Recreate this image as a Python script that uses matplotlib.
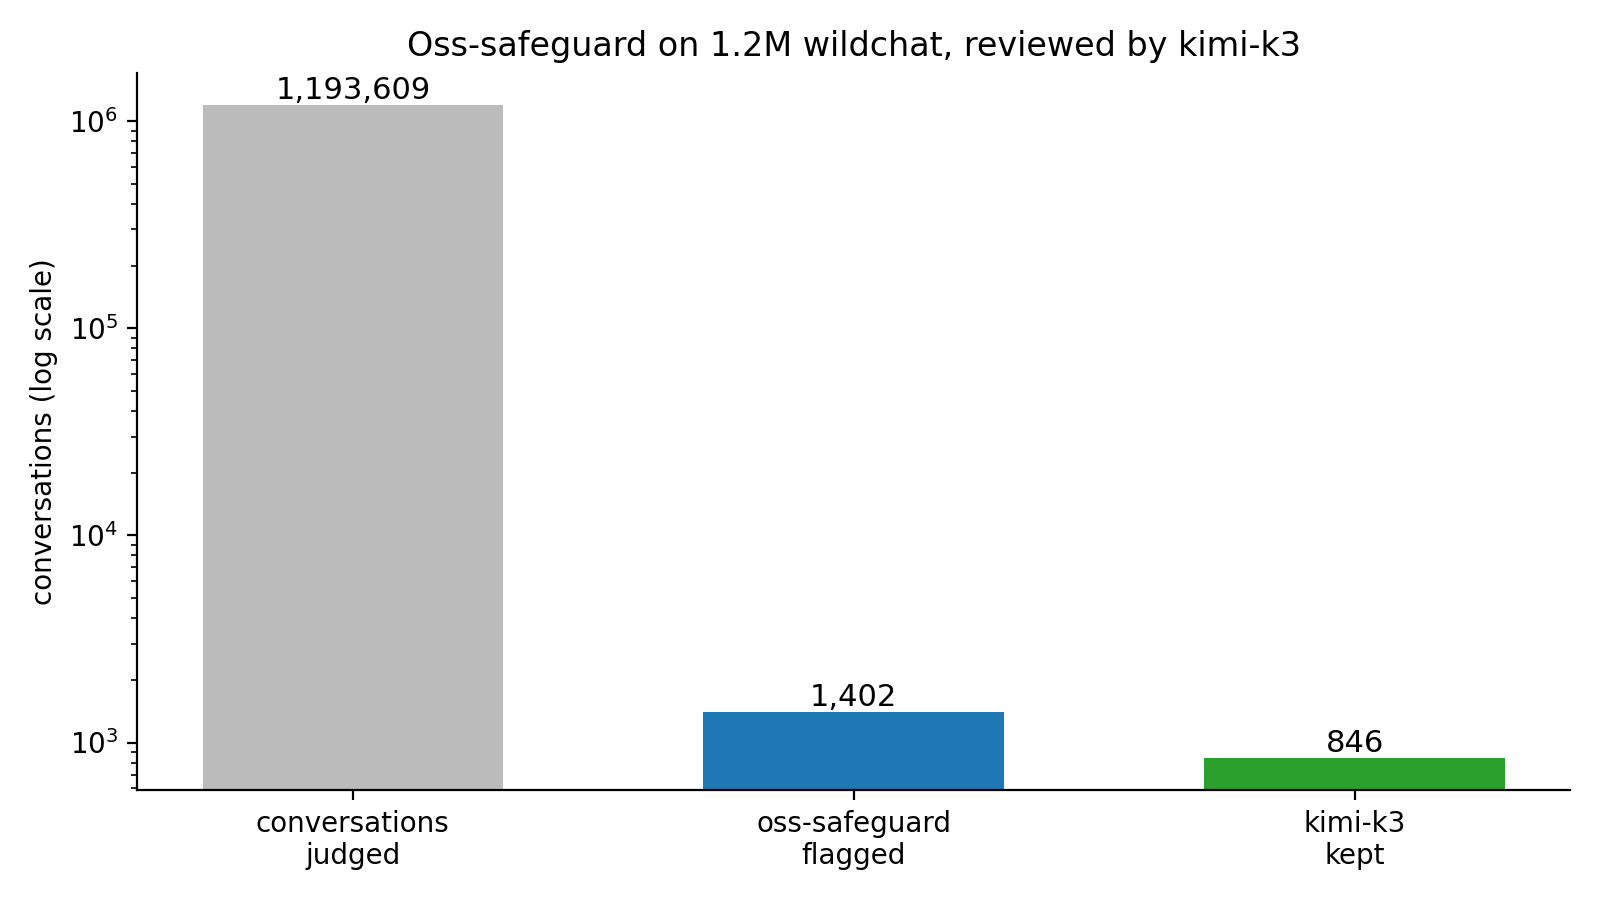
import numpy as np
import matplotlib.pyplot as plt

# data
stages = ["conversations\njudged", "oss-safeguard\nflagged", "kimi-k3\nkept"]
counts = [1193609, 1402, 846]
colors = ["#bbbbbb", "#1f77b4", "#2ca02c"]

fig, ax = plt.subplots(figsize=(8, 4.5), dpi=200)
x = np.arange(len(stages))
bars = ax.bar(x, counts, width=0.6, color=colors)
ax.set_yscale("log")
ax.set_xticks(x)
ax.set_xticklabels(stages, fontsize=10)
ax.tick_params(axis="y", labelsize=10)
ax.set_ylabel("conversations (log scale)", fontsize=10)
ax.set_title("Oss-safeguard on 1.2M wildchat, reviewed by kimi-k3", fontsize=12)
ax.bar_label(bars, labels=[f"{c:,}" for c in counts], fontsize=11)
ax.spines["top"].set_visible(False)
ax.spines["right"].set_visible(False)

plt.tight_layout()
plt.savefig("out.png")
